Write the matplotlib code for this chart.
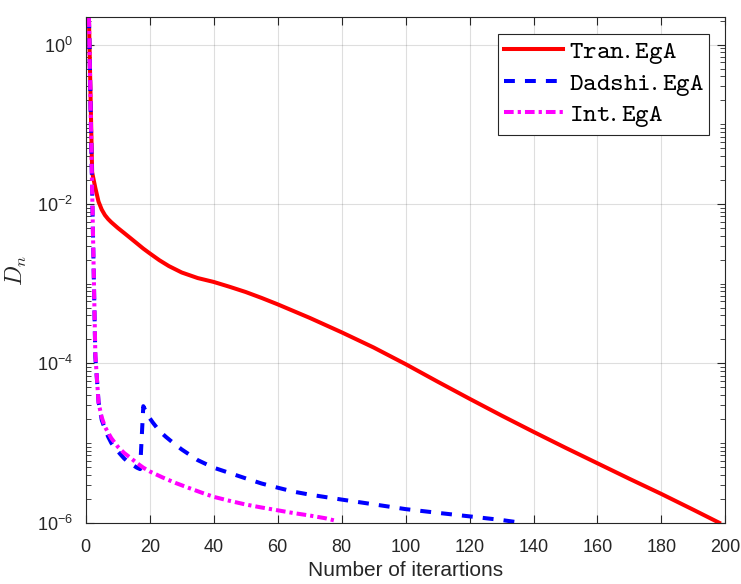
import numpy as np
import matplotlib
matplotlib.use('Agg')
import matplotlib.pyplot as plt
from matplotlib.ticker import LogLocator, FixedLocator, NullFormatter, LogFormatterSciNotation

plt.rcParams['font.family'] = ['Liberation Sans', 'DejaVu Sans']
plt.rcParams['mathtext.fontset'] = 'cm'

# Residual D_n per iteration for the three schemes
tran_iter = [1, 2, 3, 4, 5, 6, 7, 8, 10, 12, 14, 16, 18, 20, 23, 26, 30, 35, 40,
             45, 50, 55, 60, 70, 80, 90, 100, 110, 120, 130, 140, 150, 160,
             170, 180, 190, 198]
tran_dn = [2.2, 0.025, 0.0159, 0.0107, 0.0085, 0.00724, 0.00646, 0.00589,
           0.00501, 0.00432, 0.00372, 0.0032, 0.00275, 0.0024, 0.00197,
           0.00166, 0.00138, 0.001175, 0.00105, 0.000912, 0.000785, 0.000661,
           0.00055, 0.000372, 0.000245, 0.000158, 9.77e-5, 5.89e-5, 3.59e-5,
           2.21e-5, 1.38e-5, 8.71e-6, 5.56e-6, 3.55e-6, 2.29e-6, 1.45e-6, 1.0e-6]

dadshi_iter = [1, 2, 3, 4, 5, 6, 7, 8, 9, 10, 11, 12, 13, 14, 15, 16, 17, 18,
               19, 20, 21, 22, 23, 25, 27, 30, 35, 40, 45, 50, 55, 60, 65, 70,
               80, 90, 100, 110, 120, 130, 136]
dadshi_dn = [2.2, 0.015, 1.2e-4, 3.3e-5, 1.95e-5, 1.5e-5, 1.2e-5, 1.0e-5,
             8.8e-6, 7.9e-6, 7.1e-6, 6.4e-6, 5.9e-6, 5.5e-6, 5.2e-6, 4.9e-6,
             4.7e-6, 2.9e-5, 2.4e-5, 2.05e-5, 1.8e-5, 1.6e-5, 1.42e-5, 1.2e-5,
             1.03e-5, 8.3e-6, 6.1e-6, 4.9e-6, 4.2e-6, 3.6e-6, 3.1e-6, 2.75e-6,
             2.45e-6, 2.25e-6, 1.95e-6, 1.7e-6, 1.48e-6, 1.33e-6, 1.2e-6,
             1.08e-6, 1.0e-6]

int_iter = [1, 2, 3, 4, 5, 6, 7, 8, 10, 12, 14, 16, 18, 20, 24, 28, 32, 36, 40,
            45, 50, 55, 60, 65, 70, 75, 78]
int_dn = [2.2, 0.015, 1.3e-4, 3.2e-5, 2.1e-5, 1.6e-5, 1.35e-5, 1.15e-5, 9.0e-6,
          7.5e-6, 6.5e-6, 5.6e-6, 4.9e-6, 4.4e-6, 3.7e-6, 3.16e-6, 2.75e-6,
          2.4e-6, 2.11e-6, 1.88e-6, 1.69e-6, 1.55e-6, 1.43e-6, 1.32e-6, 1.23e-6,
          1.135e-6, 1.06e-6]

labels = [r'$\mathtt{Tran.EgA}$', r'$\mathtt{Dadshi.EgA}$', r'$\mathtt{Int.EgA}$']

axcol = '#262626'

fig = plt.figure(figsize=(7.41, 5.84), dpi=100)
ax = fig.add_axes([0.1157, 0.105, 0.8633, 0.8654])

ax.semilogy(tran_iter, tran_dn, color=(1, 0, 0), lw=2.9, label=labels[0])
ax.semilogy(dadshi_iter, dadshi_dn, color=(0, 0, 1), lw=2.9,
            linestyle=(0, (2.7, 2.5)), label=labels[1])
ax.semilogy(int_iter, int_dn, color=(1, 0, 1), lw=2.9,
            linestyle=(0, (2.4, 1.0, 0.8, 1.0)), label=labels[2])

ax.set_xlim(0, 200)
ax.set_ylim(1e-6, 2.2)
ax.set_xticks(np.arange(0, 201, 20))
ax.yaxis.set_major_locator(FixedLocator([1e-6, 1e-4, 1e-2, 1e0]))
ax.yaxis.set_major_formatter(LogFormatterSciNotation())
ax.yaxis.set_minor_locator(LogLocator(base=10, subs=np.arange(1, 10), numticks=20))
ax.yaxis.set_minor_formatter(NullFormatter())

ax.grid(True, which='major', color=axcol, alpha=0.15, lw=0.8)
ax.tick_params(which='both', direction='in', top=True, right=True,
               color=axcol, labelcolor=axcol, labelsize=13)
ax.tick_params(which='major', length=6, width=0.8)
ax.tick_params(which='minor', length=3.5, width=0.6)
ax.tick_params(axis='x', pad=11.5)
ax.tick_params(axis='y', pad=9)
for sp in ax.spines.values():
    sp.set_color(axcol)
    sp.set_linewidth(0.8)

ax.set_xlabel('Number of iterartions', fontsize=15, color=axcol, labelpad=4)
ax.set_ylabel(r'$D_n$', fontsize=17, color=axcol, labelpad=6)

leg = ax.legend(loc='upper right', fontsize=18.6, frameon=True, fancybox=False,
                edgecolor=axcol, framealpha=1, handlelength=2.3,
                handletextpad=0.2, labelspacing=0.17, borderpad=0.22,
                borderaxespad=0.63)
leg.get_frame().set_linewidth(0.8)

fig.savefig('out.png', dpi=100)
